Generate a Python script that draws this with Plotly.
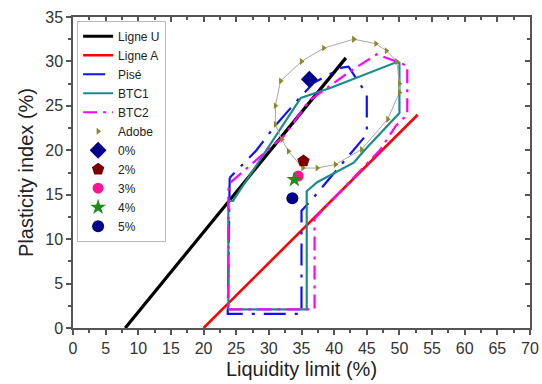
import plotly.graph_objects as go

# ---- data ----
ligne_u_x = [8.0, 41.8]
ligne_u_y = [0.0, 30.4]
ligne_a_x = [20.0, 52.8]
ligne_a_y = [0.0, 24.0]

pise_x = [24.0, 23.7, 35.0, 35.0, 36.4, 41.0, 45.0, 45.0, 44.0, 42.2, 41.2, 36.9, 34.7, 30.9, 28.1, 24.0]
pise_y = [16.9, 1.6, 1.6, 13.2, 14.3, 18.3, 21.8, 26.3, 27.4, 29.4, 29.3, 27.6, 25.9, 22.7, 20.0, 16.9]

btc1_x = [23.8, 35.8, 35.8, 37.4, 43.0, 44.5, 50.0, 50.0, 49.5, 42.7, 39.4, 34.9, 24.5, 23.8, 23.8]
btc1_y = [2.1, 2.1, 15.4, 16.4, 18.6, 19.9, 24.2, 29.8, 29.9, 28.0, 27.0, 25.9, 14.3, 14.3, 2.1]

btc2_x = [23.8, 37.0, 37.0, 38.4, 47.0, 49.5, 51.2, 51.2, 49.5, 46.5, 42.5, 36.2, 32.3, 24.0, 23.8, 23.8]
btc2_y = [2.1, 2.1, 12.3, 13.4, 20.0, 22.8, 24.0, 29.5, 30.0, 30.8, 28.9, 25.6, 21.6, 16.3, 15.5, 2.1]

adobe_x = [43.0, 46.4, 48.0, 49.6, 50.0, 50.0, 48.2, 44.2, 40.2, 37.4, 35.2, 33.0, 32.0, 31.0, 31.0, 31.8, 35.0, 38.4, 43.0]
adobe_y = [32.5, 32.0, 31.2, 30.0, 27.5, 26.5, 23.5, 20.1, 18.4, 18.0, 18.0, 19.9, 21.2, 22.9, 25.0, 27.8, 30.0, 31.5, 32.5]

pct_names = ["0%", "2%", "3%", "4%", "5%"]
pct_x = [36.2, 35.3, 34.5, 33.9, 33.6]
pct_y = [28.0, 18.8, 17.1, 16.7, 14.6]
pct_symbols = ["diamond", "pentagon", "circle", "star", "circle"]
pct_colors = ["#00008b", "#7a0000", "#ff1493", "#1a8f1a", "#00008b"]
pct_sizes = [13, 13, 11, 12, 12]

x_ticks = list(range(0, 71, 5))
y_ticks = list(range(0, 36, 5))

FONT = "Liberation Sans, Arial, sans-serif"

fig = go.Figure()
fig.add_trace(go.Scatter(x=ligne_u_x, y=ligne_u_y, mode="lines", name="Ligne U",
                         line=dict(color="black", width=3.2)))
fig.add_trace(go.Scatter(x=ligne_a_x, y=ligne_a_y, mode="lines", name="Ligne A",
                         line=dict(color="#ff0000", width=2.6)))
fig.add_trace(go.Scatter(x=pise_x, y=pise_y, mode="lines", name="Pisé",
                         line=dict(color="#1010ff", width=2.2, dash="22px,9px,3px,9px")))
fig.add_trace(go.Scatter(x=btc1_x, y=btc1_y, mode="lines", name="BTC1",
                         line=dict(color="#1a8c8c", width=2.2)))
fig.add_trace(go.Scatter(x=btc2_x, y=btc2_y, mode="lines", name="BTC2",
                         line=dict(color="#ff00ff", width=2.2, dash="14px,6px,3px,6px")))
fig.add_trace(go.Scatter(x=adobe_x, y=adobe_y, mode="lines", showlegend=False,
                         line=dict(color="#a8a8a8", width=1), hoverinfo="skip"))
fig.add_trace(go.Scatter(x=adobe_x, y=adobe_y, mode="markers", name="Adobe",
                         marker=dict(symbol="triangle-right", color="#8a8a2a", size=6)))
for n, xx, yy, s, c, sz in zip(pct_names, pct_x, pct_y, pct_symbols, pct_colors, pct_sizes):
    fig.add_trace(go.Scatter(x=[xx], y=[yy], mode="markers", name=n,
                             marker=dict(symbol=s, color=c, size=sz)))

# invisible trace to create mirror axes (top / right) with inward ticks
fig.add_trace(go.Scatter(x=[None], y=[None], xaxis="x2", yaxis="y2",
                         showlegend=False, hoverinfo="skip"))

axis_common = dict(showgrid=False, zeroline=False, showline=True, linecolor="#555555",
                   linewidth=1.5, tickcolor="#555555", automargin=False)
fig.update_layout(
    width=542, height=384,
    margin=dict(l=73, r=12, t=17, b=56),
    paper_bgcolor="white", plot_bgcolor="white",
    font=dict(family=FONT, color="#333333"),
    xaxis=dict(range=[0, 70], tickvals=x_ticks, ticktext=[str(v) for v in x_ticks],
               ticks="outside", ticklen=5, tickwidth=1.5, ticklabeloverflow="allow",
               minor=dict(dtick=2.5, ticks="outside", ticklen=3, tickcolor="#555555"),
               tickfont=dict(size=16, color="#333333"),
               title=dict(text="Liquidity limit (%)", font=dict(size=20, color="#222222"), standoff=6),
               **axis_common),
    yaxis=dict(range=[0, 35], tickvals=y_ticks, ticktext=[str(v) for v in y_ticks],
               ticks="outside", ticklen=5, tickwidth=1.5,
               minor=dict(dtick=2.5, ticks="outside", ticklen=3, tickcolor="#555555"),
               tickfont=dict(size=16, color="#333333"),
               title=dict(text="Plasticity index (%)", font=dict(size=20, color="#222222"), standoff=6),
               **axis_common),
    xaxis2=dict(range=[0, 70], overlaying="x", side="top", tickvals=x_ticks,
                ticks="inside", ticklen=5, tickwidth=1.5, showticklabels=False,
                minor=dict(dtick=2.5, ticks="inside", ticklen=3, tickcolor="#555555"),
                **axis_common),
    yaxis2=dict(range=[0, 35], overlaying="y", side="right", tickvals=y_ticks,
                ticks="inside", ticklen=5, tickwidth=1.5, showticklabels=False,
                minor=dict(dtick=2.5, ticks="inside", ticklen=3, tickcolor="#555555"),
                **axis_common),
    legend=dict(x=0.009, y=0.988, xanchor="left", yanchor="top",
                bordercolor="#bbbbbb", borderwidth=1, bgcolor="rgba(255,255,255,0)",
                font=dict(family=FONT, size=12, color="#222222"),
                tracegroupgap=0, itemwidth=30),
    showlegend=True,
)

fig.write_html("out.html")
